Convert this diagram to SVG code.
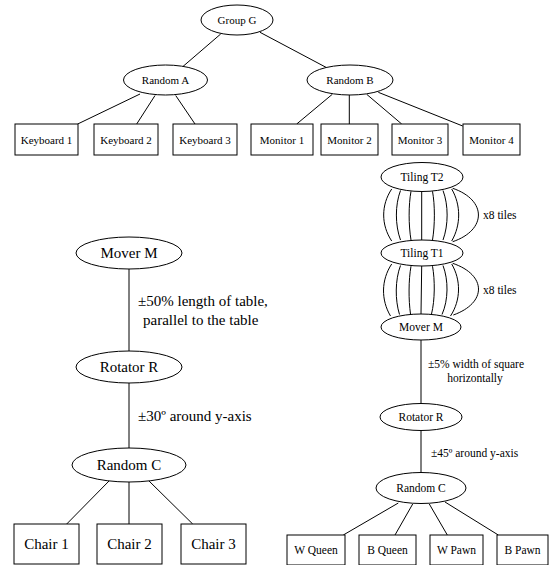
<svg xmlns="http://www.w3.org/2000/svg" width="549" height="565" viewBox="0 0 549 565" font-family="'Liberation Serif', 'DejaVu Serif', serif">
<style>
  .n { fill: #fff; stroke: #000; stroke-width: 1; }
  .e { fill: none; stroke: #000; stroke-width: 1; }
  text { font-family: "Liberation Serif", "DejaVu Serif", serif; fill: #000; }
  .s { font-size: 11px; text-anchor: middle; }
  .m { font-size: 11.5px; text-anchor: middle; }
  .ml { font-size: 11.5px; }
  .l { font-size: 15px; text-anchor: middle; }
  .ll { font-size: 15px; }
</style>
<rect width="549" height="565" fill="#fff"/>
<g id="connectors">
  <line class="e" x1="220.7" y1="34" x2="182.7" y2="66.7"/>
  <line class="e" x1="260" y1="32.3" x2="326.7" y2="67.7"/>
  <line class="e" x1="140" y1="94" x2="77.7" y2="124"/>
  <line class="e" x1="155" y1="95.5" x2="136.7" y2="124"/>
  <line class="e" x1="175.7" y1="95.5" x2="195" y2="124"/>
  <line class="e" x1="332.3" y1="94.3" x2="296.7" y2="124"/>
  <line class="e" x1="349.3" y1="95" x2="349.3" y2="124"/>
  <line class="e" x1="366.7" y1="94.3" x2="401.7" y2="124"/>
  <line class="e" x1="378.3" y1="92.3" x2="462.7" y2="126"/>
  <line class="e" x1="129" y1="269" x2="129" y2="351"/>
  <line class="e" x1="129" y1="383" x2="129" y2="448"/>
  <line class="e" x1="110" y1="480" x2="66.7" y2="524"/>
  <line class="e" x1="129" y1="481" x2="129" y2="524"/>
  <line class="e" x1="148" y1="480" x2="192.7" y2="524"/>
  <path class="e" d="M391.7,189 C381,205 381,225 391.7,241"/>
  <path class="e" d="M400.5,190.5 C395,205 395,225 400.5,240"/>
  <path class="e" d="M411,191.3 C408.5,205 408.5,225 411,240"/>
  <line class="e" x1="421.7" y1="191.5" x2="421.7" y2="240"/>
  <path class="e" d="M432.5,191.3 C435,205 435,225 432.5,240"/>
  <path class="e" d="M443,190.5 C448.5,205 448.5,225 443,240"/>
  <path class="e" d="M451.7,189 C461,205 461,225 451.7,241"/>
  <path class="e" d="M452.7,188.3 C487,200 487,230 452.7,241.7"/>
  <path class="e" d="M391.7,264 C381,280 381,300 390.5,316"/>
  <path class="e" d="M400.5,265.5 C395,280 395,300 399.5,314.5"/>
  <path class="e" d="M411,266.2 C408.5,280 408.5,300 410.5,314"/>
  <line class="e" x1="421.7" y1="266" x2="421" y2="314"/>
  <path class="e" d="M432.5,266.2 C435,280 435,300 431.5,314"/>
  <path class="e" d="M443,265.5 C448.5,280 448.5,300 442,314.5"/>
  <path class="e" d="M451.7,264 C461,280 461,300 450.5,316"/>
  <path class="e" d="M452.7,263.3 C487,275 487,303 453.3,315"/>
  <line class="e" x1="421" y1="340" x2="421" y2="403.5"/>
  <line class="e" x1="421" y1="430.5" x2="421" y2="472.5"/>
  <line class="e" x1="398.3" y1="503" x2="343.3" y2="535"/>
  <line class="e" x1="412.7" y1="504" x2="395" y2="535"/>
  <line class="e" x1="429.3" y1="504" x2="447.3" y2="535"/>
  <line class="e" x1="445" y1="502" x2="498.3" y2="535"/>
</g>
<g id="group-g"><ellipse class="n" cx="237" cy="20" rx="36" ry="15"/><text class="s" x="237" y="24">Group G</text></g>
<g id="random-a"><ellipse class="n" cx="165.5" cy="80" rx="42" ry="15"/><text class="s" x="165.5" y="84">Random A</text></g>
<g id="random-b"><ellipse class="n" cx="350" cy="80" rx="43" ry="15"/><text class="s" x="350" y="84">Random B</text></g>
<g id="keyboard-1"><rect class="n" x="15" y="124" width="63" height="31"/><text class="s" x="46.5" y="143.5">Keyboard 1</text></g>
<g id="keyboard-2"><rect class="n" x="94" y="124" width="64" height="31"/><text class="s" x="126" y="143.5">Keyboard 2</text></g>
<g id="keyboard-3"><rect class="n" x="173" y="124" width="64" height="31"/><text class="s" x="205" y="143.5">Keyboard 3</text></g>
<g id="monitor-1"><rect class="n" x="251" y="124" width="62" height="31"/><text class="s" x="282" y="143.5">Monitor 1</text></g>
<g id="monitor-2"><rect class="n" x="321" y="124" width="57" height="31"/><text class="s" x="349.5" y="143.5">Monitor 2</text></g>
<g id="monitor-3"><rect class="n" x="392" y="124" width="56" height="31"/><text class="s" x="420" y="143.5">Monitor 3</text></g>
<g id="monitor-4"><rect class="n" x="463" y="124" width="57" height="31"/><text class="s" x="491.5" y="143.5">Monitor 4</text></g>
<g id="mover-m-left"><ellipse class="n" cx="129" cy="253" rx="53" ry="16"/><text class="l" x="129" y="258">Mover M</text></g>
<g id="rotator-r-left"><ellipse class="n" cx="129" cy="367" rx="53" ry="16"/><text class="l" x="129" y="372">Rotator R</text></g>
<g id="random-c-left"><ellipse class="n" cx="129" cy="465" rx="57" ry="17"/><text class="l" x="129" y="470">Random C</text></g>
<g id="chair-1"><rect class="n" x="14" y="524" width="65" height="40"/><text class="l" x="46.5" y="549">Chair 1</text></g>
<g id="chair-2"><rect class="n" x="97" y="524" width="65" height="40"/><text class="l" x="129.5" y="549">Chair 2</text></g>
<g id="chair-3"><rect class="n" x="181" y="524" width="65" height="40"/><text class="l" x="213.5" y="549">Chair 3</text></g>
<g id="edge-labels-left">
  <text class="ll" x="138" y="306">±50% length of table,</text>
  <text class="ll" x="143" y="325">parallel to the table</text>
  <text class="ll" x="138" y="421">±30º around y-axis</text>
</g>
<g id="tiling-t2"><ellipse class="n" cx="422" cy="177" rx="41" ry="14.5"/><text class="m" x="422" y="181">Tiling T2</text></g>
<g id="tiling-t1"><ellipse class="n" cx="422" cy="253" rx="41" ry="13"/><text class="m" x="422" y="257">Tiling T1</text></g>
<g id="mover-m-right"><ellipse class="n" cx="421" cy="327" rx="40" ry="13"/><text class="m" x="421" y="331">Mover M</text></g>
<g id="rotator-r-right"><ellipse class="n" cx="421" cy="417" rx="41" ry="13.5"/><text class="m" x="421" y="421">Rotator R</text></g>
<g id="random-c-right"><ellipse class="n" cx="421" cy="488" rx="45" ry="15.5"/><text class="m" x="421" y="492">Random C</text></g>
<g id="w-queen"><rect class="n" x="287" y="535" width="58" height="30"/><text class="m" x="316" y="554">W Queen</text></g>
<g id="b-queen"><rect class="n" x="359" y="535" width="57" height="30"/><text class="m" x="387.5" y="554">B Queen</text></g>
<g id="w-pawn"><rect class="n" x="430" y="535" width="53" height="30"/><text class="m" x="456.5" y="554">W Pawn</text></g>
<g id="b-pawn"><rect class="n" x="497" y="535" width="51" height="30"/><text class="m" x="522.5" y="554">B Pawn</text></g>
<g id="edge-labels-right">
  <text class="ml" x="483" y="219">x8 tiles</text>
  <text class="ml" x="483" y="294">x8 tiles</text>
  <text class="m" x="476" y="368">±5% width of square</text>
  <text class="m" x="475" y="382">horizontally</text>
  <text class="ml" x="431" y="457">±45º around y-axis</text>
</g>
</svg>
